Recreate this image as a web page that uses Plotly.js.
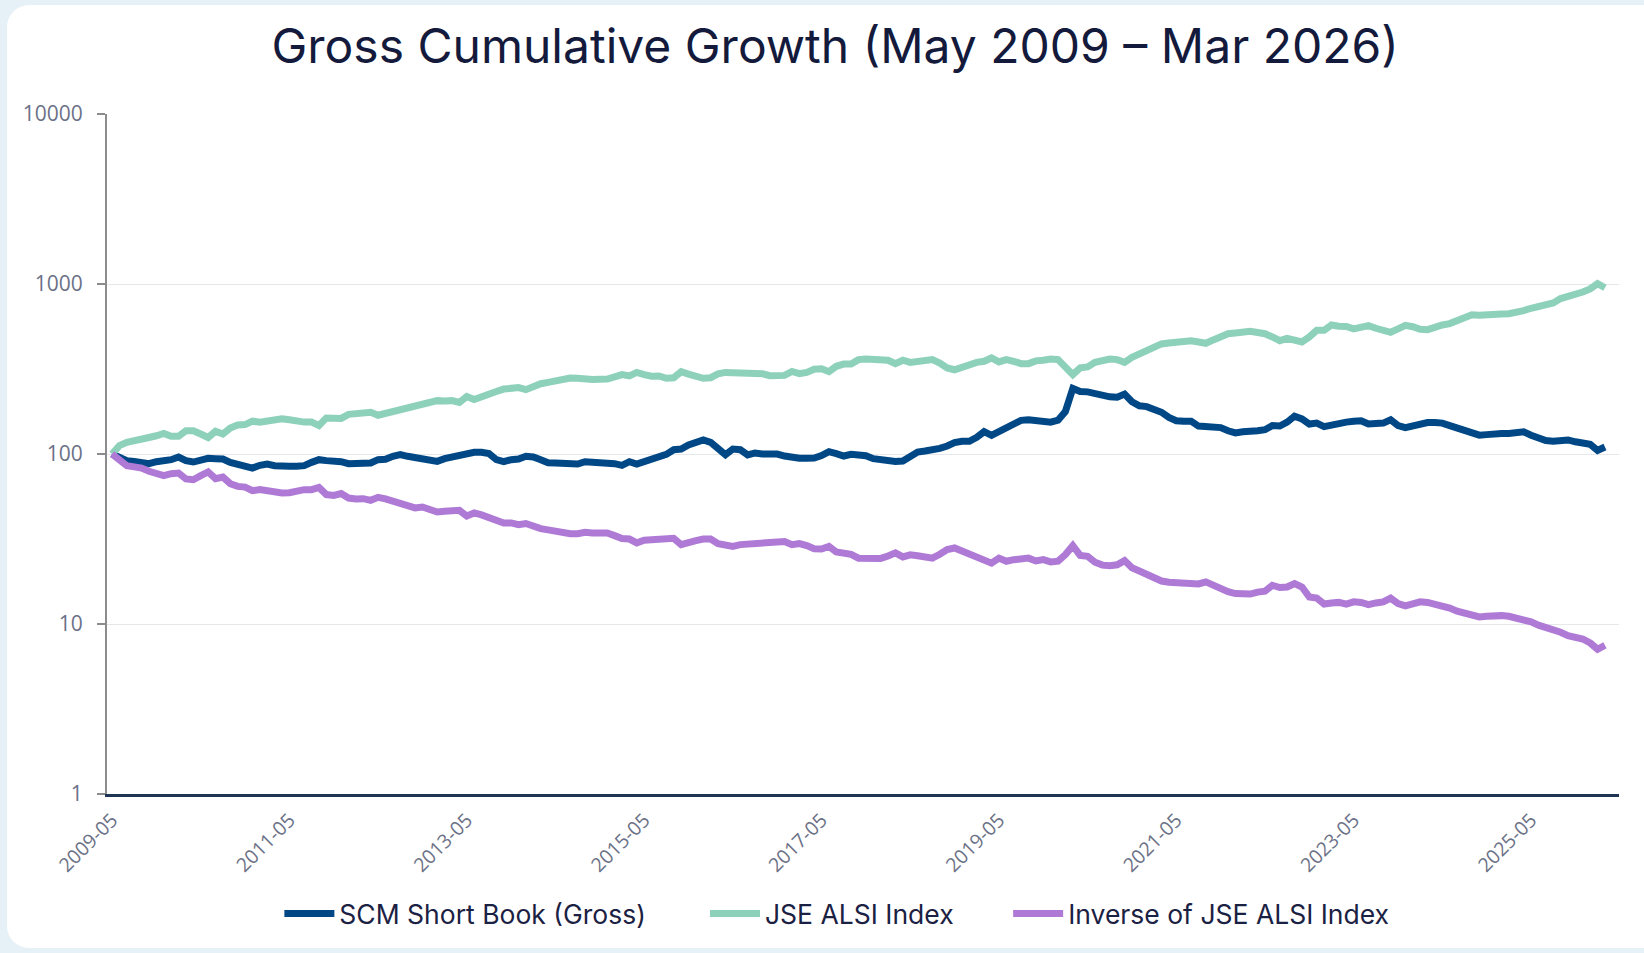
<!DOCTYPE html>
<html><head><meta charset="utf-8">
<script src="https://cdn.plot.ly/plotly-3.0.1.min.js"></script>
<style>
html,body{margin:0;padding:0;width:1644px;height:953px;overflow:hidden;background:#e6f0f7;}
#card{position:absolute;left:7px;top:5px;width:1680px;height:943px;background:#ffffff;border-radius:22px;}
#chart{position:absolute;left:0;top:0;width:1644px;height:953px;}
</style></head><body>
<div id="card"></div><div id="chart"></div>
<script>
// Monthly series, May 2009 .. Mar 2026 (203 points)
const scmShortBook = [
 100, 94.7, 91.4, 90.5, 89.7, 87.7, 90.1, 90.5, 92.6, 96.0,
 91.4, 89.7, 92.6, 94.3, 93.9, 93.4, 89.3, 87.3, 86.5, 82.7,
 85.8, 87.3, 85.4, 84.0, 84.6, 84.6, 85.4, 89.3, 92.6, 91.4,
 91.0, 90.1, 87.7, 87.3, 87.3, 88.5, 92.6, 93.0, 96.9, 99.1,
 96.9, 95.6,
 93.4, 91.4, 90.5, 93.9, 96.0, 97.8, 98.2, 102.3, 102.3, 100.5,
 92.6, 90.1, 92.6, 93.4, 96.9, 96.0, 92.6, 88.9, 88.5, 88.5,
 87.3, 87.3, 90.1, 89.7, 89.7, 89.7, 87.7, 85.8, 90.1, 87.3,
 90.1, 92.6, 96.9, 99.5, 106.0, 107.0, 113.0, 117.6, 120.9, 117.1,
 107.0, 99.1,
 107, 106, 98.7, 101.4, 100, 100, 100, 97.3, 95.1, 94.3,
 94.3, 94.7, 97.8, 103.2, 100.5, 97.3, 99.5, 98.7, 97.8, 93.9,
 92.6, 90.1, 90.5, 91.0, 96.0, 102.7, 104.1, 105.1, 108.0, 111.4,
 116.6, 118.7, 118.7, 125.3, 135.3, 128.8, 135.3, 139.7, 148.1, 157.7,
 159, 156.4,
 153, 154, 158, 178, 243, 233, 232, 226, 221, 217,
 216, 225, 203, 192, 190, 185, 176, 164, 157, 156,
 156, 146, 144, 143, 143, 137, 133, 135, 135, 137,
 139, 147, 146, 154, 167, 161, 150, 152, 145, 148,
 154, 154,
 156, 157, 150, 152, 152, 159, 147, 143, 147, 152,
 153, 153, 152, 147, 143, 139, 134, 129, 130, 132,
 132, 132, 134, 135, 129, 123, 120, 119, 120, 121,
 118, 116, 114, 105, 110
];
const jseAlsi = [
 100, 112, 117, 119, 120, 125, 128, 132, 127, 127,
 137, 137, 131, 125, 136, 131, 142, 148, 149, 156,
 154, 156, 158, 161, 159, 156, 154, 154, 147, 163,
 164, 162, 171, 174, 173, 176, 169, 173, 177, 182,
 185, 193,
 193, 200, 206, 205, 206, 201, 218, 209, 215, 223,
 233, 241, 241, 246, 239, 252, 259, 264, 269, 276,
 280, 279, 274, 274, 275, 276, 284, 293, 288, 302,
 293, 287, 288, 279, 281, 305, 295, 288, 279, 281,
 296, 302,
 302, 297, 300, 300, 297, 289, 287, 290, 306, 297,
 302, 315, 317, 305, 328, 338, 338, 359, 362, 362,
 362, 356, 340, 356, 346, 351, 351, 359, 343, 321,
 313, 325, 335, 346, 351, 367, 348, 359, 351, 340,
 340, 353,
 356, 362, 359, 328, 293, 321, 325, 346, 357, 362,
 359, 346, 370, 389, 405, 426, 444, 450, 454, 452,
 464, 456, 448, 469, 490, 510, 515, 527, 527, 518,
 510, 488, 464, 479, 471, 456, 488, 534, 534, 574,
 564, 562,
 544, 551, 569, 549, 531, 520, 544, 571, 561, 541,
 539, 559, 574, 585, 610, 640, 659, 656, 656, 653,
 665, 669, 675, 697, 720, 739, 752, 774, 821, 843,
 865, 897, 935, 1005, 950
];
const inverseJse = [
 100, 92.6, 85.4, 84.0, 82.7, 79.1, 77.3, 74.6, 76.6, 77.3,
 71.3, 70.6, 74.6, 78.4, 71.6, 73.2, 66.9, 64.5, 63.9, 60.9,
 61.7, 60.6, 59.8, 59.0, 59.2, 60.6, 61.7, 61.7, 63.6, 57.7,
 57.1, 58.5, 55.1, 54.4, 54.6, 53.4, 55.6, 54.4, 52.9, 52.0,
 50.4, 48.2,
 48.8, 47.1, 45.6, 46.0, 46.0, 46.6, 43.2, 45.0, 43.8, 42.4,
 40.7, 39.3, 39.3, 38.4, 39.0, 37.2, 36.4, 35.8, 35.1, 34.6,
 34.0, 34.0, 34.6, 34.3, 34.3, 34.3, 33.1, 31.8, 31.6, 30.0,
 31.1, 31.3, 31.3, 32.1, 31.9, 29.3, 30.4, 30.9, 31.6, 31.6,
 29.7, 29.0,
 28.6, 29.3, 29.6, 29.6, 29.6, 30.0, 30.6, 30.6, 29.3, 29.7,
 28.9, 27.7, 27.6, 28.6, 26.5, 25.8, 25.7, 24.4, 24.2, 24.2,
 24.3, 25.1, 26.2, 24.8, 25.5, 25.2, 25.0, 24.4, 25.7, 27.4,
 28.0, 26.9, 25.9, 25.2, 24.3, 22.8, 24.4, 23.4, 23.9, 24.4,
 24.4, 23.5,
 23.9, 23.2, 23.4, 25.6, 28.9, 25.3, 25.0, 23.1, 22.2, 22.0,
 22.3, 23.6, 21.4, 20.5, 19.6, 18.6, 17.9, 17.6, 17.5, 17.5,
 17.1, 17.2, 17.7, 16.9, 16.2, 15.5, 15.1, 14.9, 15.0, 15.4,
 15.6, 16.9, 16.4, 16.5, 17.3, 16.5, 14.4, 14.2, 13.1, 13.3,
 13.4, 13.1,
 13.5, 13.4, 13.0, 13.3, 13.5, 14.2, 13.2, 12.8, 13.1, 13.5,
 13.4, 13.1, 12.7, 12.4, 11.9, 11.5, 11.2, 11.0, 11.1, 11.2,
 11.2, 11.1, 10.9, 10.7, 10.3, 9.84, 9.60, 9.36, 8.94, 8.54,
 8.35, 8.16, 7.73, 7.1, 7.5
];
const seriesNames = ['SCM Short Book (Gross)', 'JSE ALSI Index', 'Inverse of JSE ALSI Index'];
const xTickLabels = ['2009-05','2011-05','2013-05','2015-05','2017-05','2019-05','2021-05','2023-05','2025-05'];
const yTickValues = [1, 10, 100, 1000, 10000];
const yTickLabels = ['1', '10', '100', '1000', '10000'];

// month categories (calendar labels) from May 2009
const months = [];
for (let k = 0; k < scmShortBook.length; k++) {
  const m = 4 + k;
  const y = 2009 + Math.floor(m / 12);
  months.push(y + '-' + String(m % 12 + 1).padStart(2, '0'));
}

const colors = ['#004785', '#8ed1ba', '#af7ad6'];
const legendIds = ['legend', 'legend2', 'legend3'];
const seriesData = [scmShortBook, jseAlsi, inverseJse];
const traces = seriesData.map((vals, k) => ({
  type: 'scatter', mode: 'lines', x: months, y: vals, name: seriesNames[k],
  legend: legendIds[k],
  line: {color: colors[k], width: 7}, hoverinfo: 'x+y+name'
}));

const legendFont = {family: 'Inter', size: 26.5, color: '#1b2143'};
function legendAt(xp) {
  return {orientation: 'h', x: xp, xanchor: 'left', y: -0.176, yanchor: 'middle',
    font: legendFont, bgcolor: 'rgba(0,0,0,0)', itemwidth: 50};
}

const layout = {
  width: 1644, height: 953,
  paper_bgcolor: 'rgba(0,0,0,0)', plot_bgcolor: 'rgba(0,0,0,0)',
  margin: {l: 107, r: 25, t: 114, b: 159},
  title: {text: 'Gross Cumulative Growth (May 2009 – Mar 2026)',
    font: {family: 'Inter', size: 48, color: '#141a3c'},
    x: 0.508, xref: 'container', xanchor: 'center', y: 0.951, yref: 'container', yanchor: 'middle'},
  xaxis: {type: 'category', range: [-0.68, 203.9], tickvals: xTickLabels, ticktext: xTickLabels,
    tickangle: -45, tickfont: {family: 'Open Sans', size: 19.5, color: '#6b7186'}, ticklabelstandoff: 4,
    showgrid: false, showline: true, linecolor: '#1d3553', linewidth: 3, ticks: '', zeroline: false,
    fixedrange: true},
  yaxis: {type: 'log', range: [0, 4], tickvals: yTickValues, ticktext: yTickLabels,
    showgrid: true, gridcolor: '#e6e7eb', gridwidth: 1, showline: true, linecolor: '#8c8c8c', linewidth: 2,
    ticks: 'outside', ticklen: 8, tickwidth: 2, tickcolor: '#8c8c8c', ticklabelstandoff: 10,
    tickfont: {family: 'Open Sans', size: 21, color: '#6b7186'}, zeroline: false, fixedrange: true},
  legend: legendAt(0.114),
  legend2: legendAt(0.3955),
  legend3: legendAt(0.596),
  showlegend: true
};
Plotly.newPlot('chart', traces, layout, {displayModeBar: false});
</script></body></html>
